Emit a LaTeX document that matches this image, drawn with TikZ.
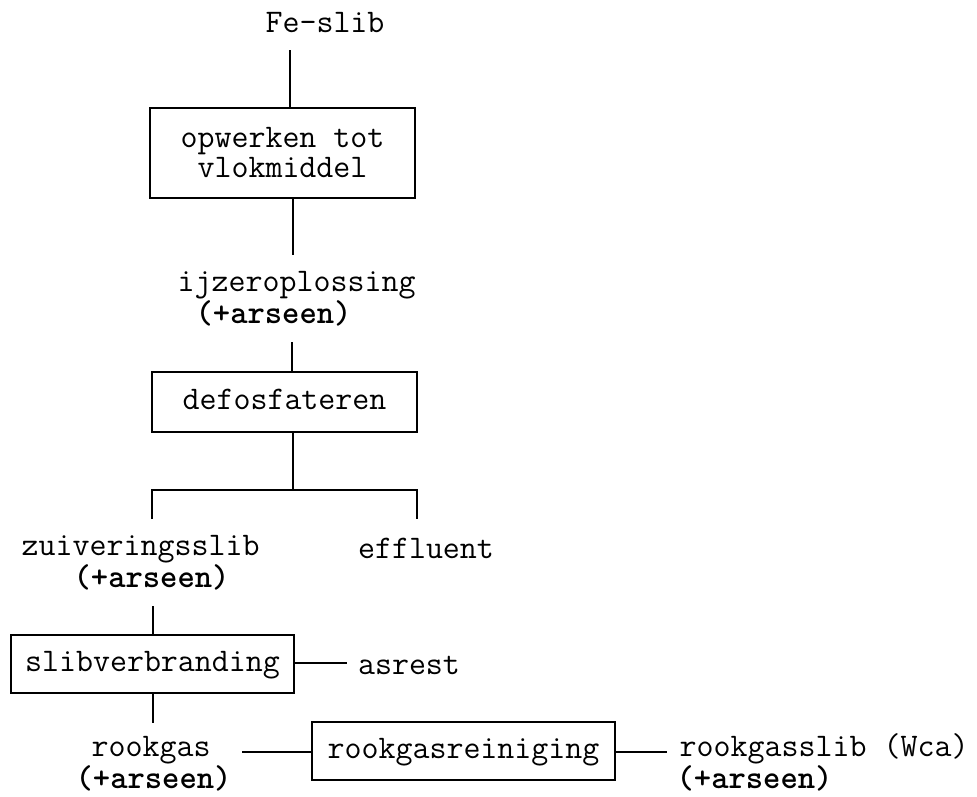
\documentclass[tikz,border=0pt]{standalone}
\usepackage{fontspec}
\newcommand{\ars}{{\bfseries(+arseen)}}
\begin{document}
\begin{tikzpicture}[x=1pt,y=-1pt,line width=1.2pt,
  lbl/.style={font=\ttfamily\fontsize{33}{29}\selectfont,inner sep=0pt,anchor=base},
  pair/.style={font=\ttfamily\fontsize{33}{29}\selectfont,inner sep=0pt,align=left,anchor=base west},
  procbox/.style={draw,font=\ttfamily\fontsize{33}{29}\selectfont,inner sep=0pt,
    text height=20pt,text depth=6pt,anchor=center}]
\useasboundingbox (0,0) rectangle (977,796);
% nodes
\node[lbl] (fe) at (325,32) {Fe-slib};
\node[draw,font=\ttfamily\fontsize{33}{30}\selectfont,inner sep=0pt,align=center,
  minimum width=265pt,minimum height=90pt] (box1) at (282.5,153) {opwerken tot\\vlokmiddel};
\node[pair] (ijzer) at (177,323) {ijzeroplossing\\\hspace*{18pt}\ars};
\node[procbox,minimum width=265pt,minimum height=60pt] (box2) at (284.5,402) {defosfateren};
\node[pair] (zuiv) at (21,587) {zuiveringsslib\\\hspace*{52pt}\ars};
\node[lbl] (effl) at (426,558) {effluent};
\node[procbox,minimum width=283pt,minimum height=58pt] (box3) at (152.5,664) {slibverbranding};
\node[lbl] (asrest) at (409,674) {asrest};
\node[pair] (rook) at (75,788) {\hspace*{16pt}rookgas\\\ars};
\node[procbox,minimum width=303pt,minimum height=58pt] (box4) at (463.5,751) {rookgasreiniging};
\node[pair] (rgs) at (679,788) {rookgasslib (Wca)\\\hspace*{-3pt}\ars};
% connector ends
\coordinate (c1) at (290,50);
\coordinate (c2) at (293,255);
\coordinate (c3) at (292,342);
\coordinate (split) at (293,490);
\coordinate (sl) at (152,490);
\coordinate (sr) at (417,490);
\coordinate (slend) at (152,519);
\coordinate (srend) at (417,519);
\coordinate (c4) at (153,606);
\coordinate (c5) at (347,663);
\coordinate (c6) at (153,723);
\coordinate (c7) at (242,752);
\coordinate (c8) at (667,752);
% connectors
\draw (c1) -- (c1 |- box1.north);
\draw (box1.south -| c2) -- (c2);
\draw (c3) -- (c3 |- box2.north);
\draw (box2.south -| split) -- (split);
\draw (slend) -- (sl) -- (sr) -- (srend);
\draw (c4) -- (c4 |- box3.north);
\draw (box3.east |- c5) -- (c5);
\draw (box3.south -| c6) -- (c6);
\draw (c7) -- (box4.west |- c7);
\draw (box4.east |- c8) -- (c8);
\end{tikzpicture}
\end{document}
